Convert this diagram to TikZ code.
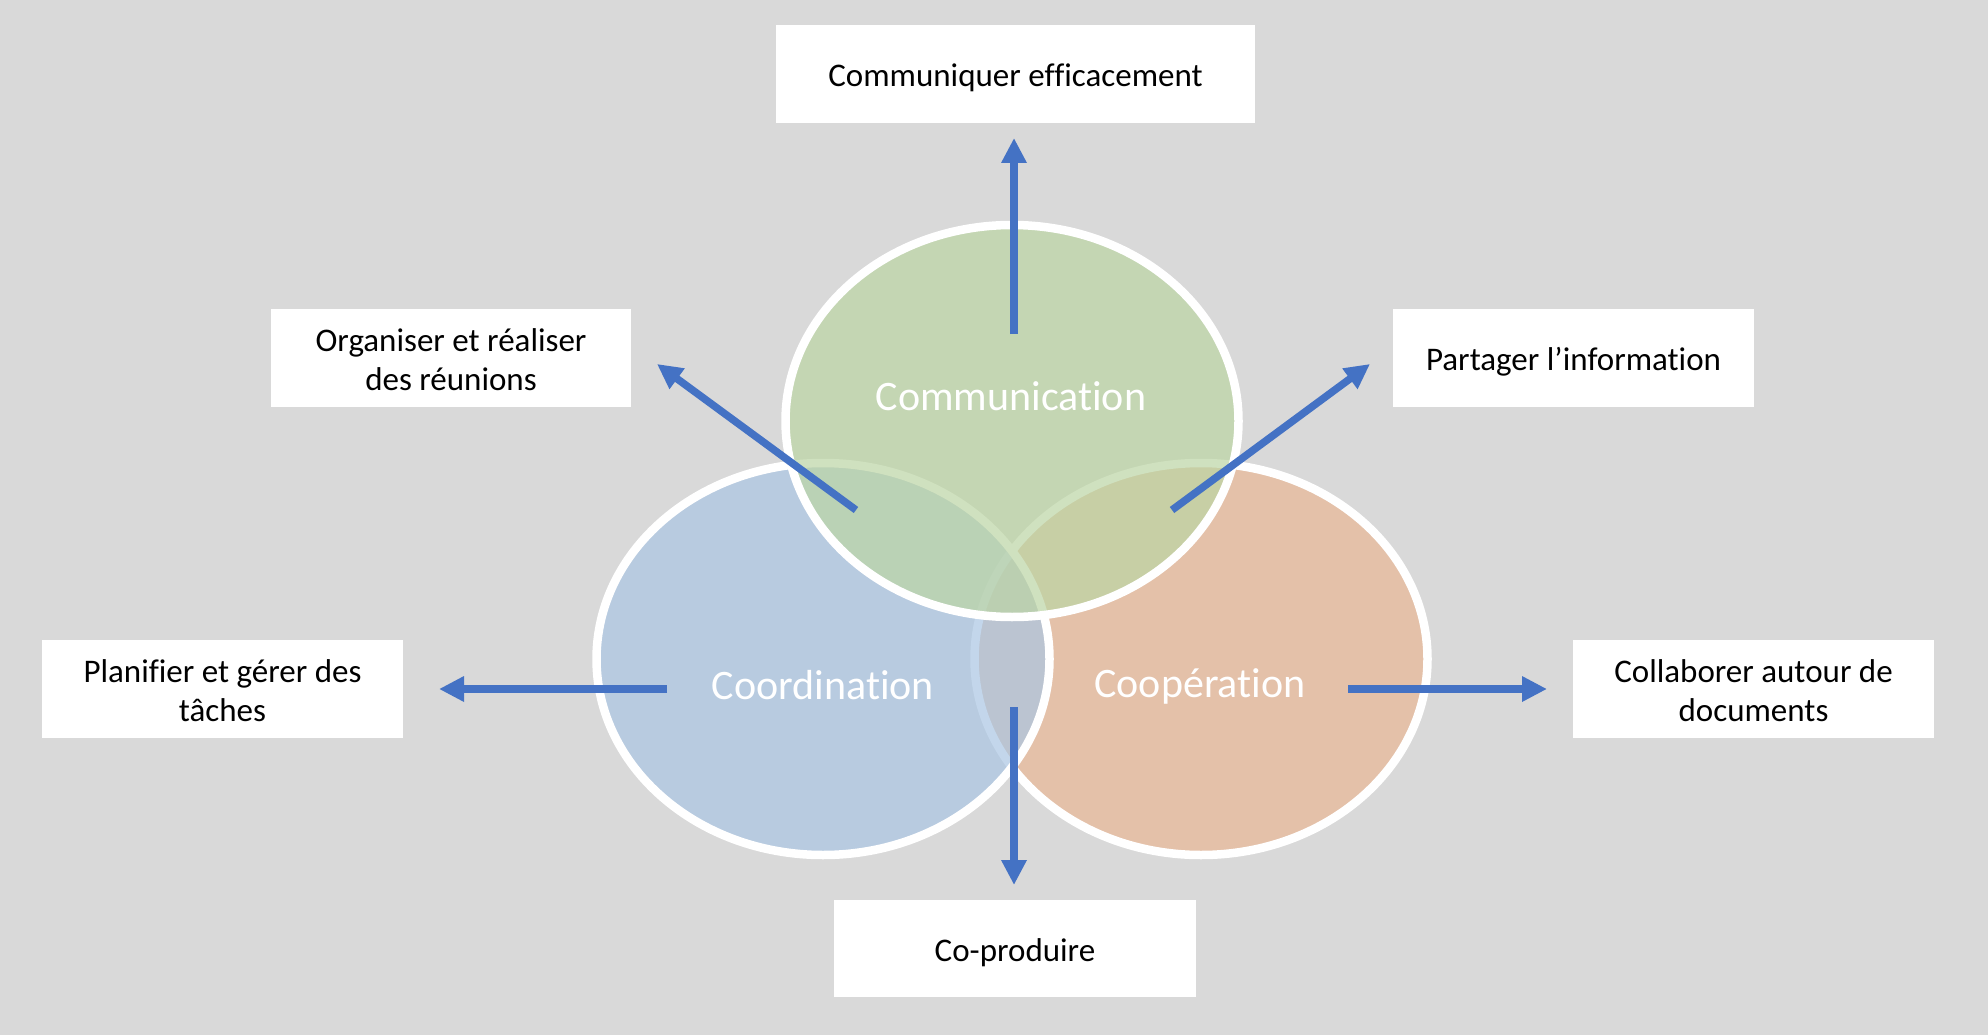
\documentclass[tikz,border=0pt]{standalone}
\usepackage{fontspec}
\setmainfont{Carlito}[Ligatures=NoCommon]
\usetikzlibrary{shapes.geometric,arrows.meta}
\definecolor{bg}{RGB}{217,217,217}
\definecolor{cgreen}{RGB}{188,213,164}
\definecolor{cblue}{RGB}{170,198,227}
\definecolor{corange}{RGB}{233,184,150}
\definecolor{arrowblue}{RGB}{68,114,196}
\begin{document}
\begin{tikzpicture}[x=1pt,y=-1pt,
  box/.style={draw=none,fill=white,minimum height=98pt,inner sep=0pt},
  boxtext/.style={align=center,inner sep=0pt,font=\fontsize{33}{39}\selectfont},
  venn/.style={ellipse,draw=white,line width=8.5pt,fill opacity=0.7,draw opacity=1,
    minimum width=453pt,minimum height=392pt,inner sep=0pt},
  vlabel/.style={text=white,font=\fontsize{42}{50}\selectfont},
  arr/.style={draw=arrowblue,line width=7.5pt,-{Triangle[length=25pt,width=24pt]}}]
\fill[bg] (0,0) rectangle (1988,1035);
\useasboundingbox (0,0) rectangle (1988,1035);
% ellipses
\node[venn,fill=corange] (coop) at (1201,659) {};
\node[venn,fill=cblue] (coord) at (823,659) {};
\node[venn,fill=cgreen] (comm) at (1012,421) {};
% labels
\node[vlabel] (lcomm) at (1011,396) {Communication};
\node[vlabel] (lcoord) at (823,685) {Coordination};
\node[vlabel] (lcoop) at (1200,686) {Coopération};
% boxes
\node[box,minimum width=479pt] (b1) at (1015.5,74) {};
\node[box,minimum width=360pt] (b2) at (451,358) {};
\node[box,minimum width=361pt] (b3) at (1573.5,358) {};
\node[box,minimum width=361pt] (b4) at (222.5,689) {};
\node[box,minimum width=361pt] (b5) at (1753.5,689) {};
\node[box,minimum width=362pt,minimum height=97pt] (b6) at (1015,948.5) {};
\node[boxtext] (b1t) at ([yshift=-4pt]b1.center) {Communiquer efficacement};
\node[boxtext] (b2t) at ([yshift=-1.5pt]b2.center) {Organiser et réaliser\\des réunions};
\node[boxtext] (b3t) at ([yshift=-4pt]b3.center) {Partager l’information};
\node[boxtext] (b4t) at ([yshift=-1.5pt]b4.center) {Planifier et gérer des\\tâches};
\node[boxtext] (b5t) at ([yshift=-1.5pt]b5.center) {Collaborer autour de\\documents};
\node[boxtext] (b6t) at ([yshift=-4pt]b6.center) {Co-produire};
% arrow end points
\coordinate (s1) at (1014,334); \coordinate (t1) at (1014,138);
\coordinate (s2) at (856,510);  \coordinate (t2) at (657,364);
\coordinate (s3) at (1172,510); \coordinate (t3) at (1370,364);
\coordinate (s4) at (667,689);  \coordinate (t4) at (439,689);
\coordinate (s5) at (1348,689); \coordinate (t5) at (1547,689);
\coordinate (s6) at (1014,707); \coordinate (t6) at (1014,885);
\draw[arr] (s1) -- (t1);
\draw[arr] (s2) -- (t2);
\draw[arr] (s3) -- (t3);
\draw[arr] (s4) -- (t4);
\draw[arr] (s5) -- (t5);
\draw[arr] (s6) -- (t6);
\end{tikzpicture}
\end{document}
